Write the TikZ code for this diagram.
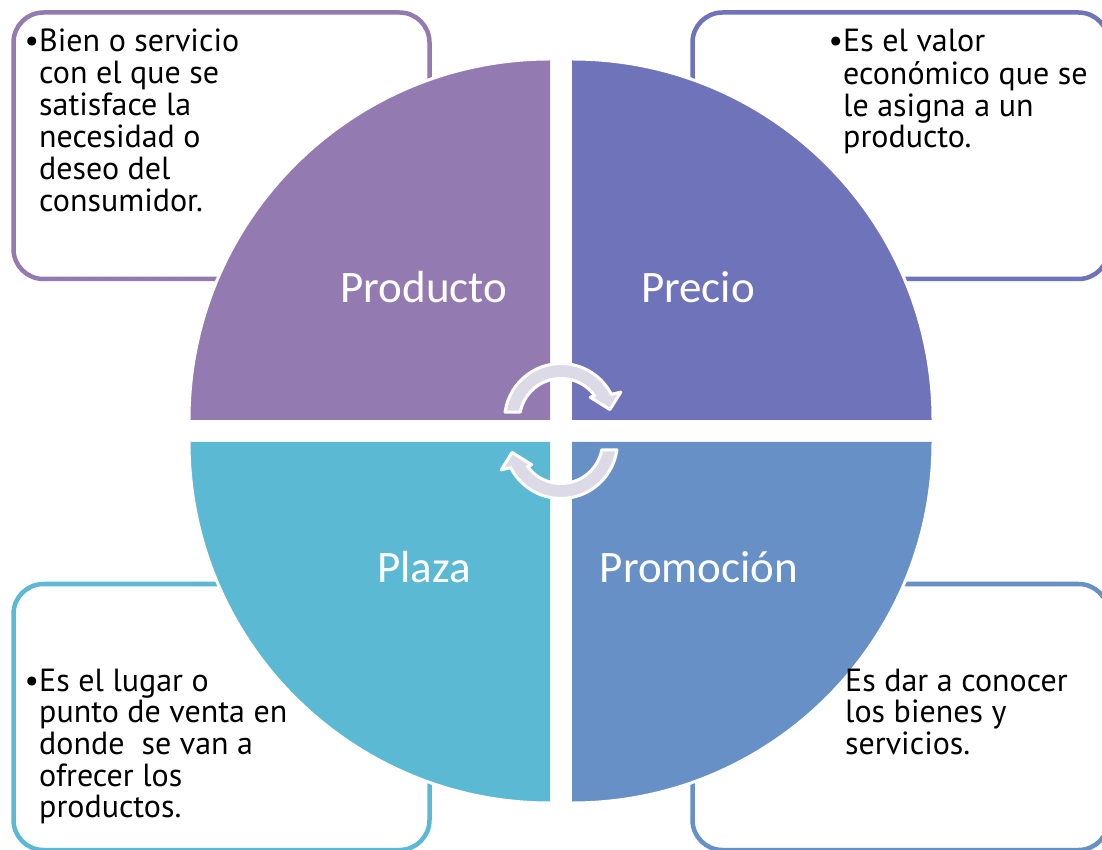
\documentclass[tikz,border=0pt]{standalone}
\usepackage{fontspec}
\setmainfont{PT Sans}
\newfontfamily\titlefont{Carlito}
\definecolor{cprod}{HTML}{937BB2}
\definecolor{cprec}{HTML}{6F73BA}
\definecolor{cplaz}{HTML}{5CB9D3}
\definecolor{cprom}{HTML}{6690C6}
\definecolor{carrow}{HTML}{DDDAE7}
\tikzset{
  infobox/.style={line width=4.5pt, rounded corners=30pt},
  bodytext/.style={inner sep=0pt, anchor=base west, font=\fontsize{32}{31}\selectfont, text=black},
  titletext/.style={inner sep=0pt, anchor=base, font=\titlefont\fontsize{45}{48}\selectfont, text=white},
  quadedge/.style={white, line width=3pt},
  cyclearrow/.style={draw=white, line width=3pt, fill=carrow, line join=round}
}
\newcommand{\bl}{\llap{\textbullet}}
\begin{document}
\begin{tikzpicture}[x=1pt,y=1pt]
\clip (0,0) rectangle (1102,849);
\fill[white] (0,0) rectangle (1102,849);
% boxes
\draw[infobox, draw=cprod] (13.5,570) rectangle (429.5,836.5);
\draw[infobox, draw=cprec] (692.5,570) rectangle (1108.5,836.5);
\draw[infobox, draw=cplaz] (13.5,-1) rectangle (429.5,265);
\draw[infobox, draw=cprom] (692.5,-1) rectangle (1108.5,265);
% texts
\node[bodytext] (tprod) at (39,797) {\begin{tabular}[t]{@{}l@{}}\bl Bien o servicio\\con el que se\\satisface la\\necesidad o\\deseo del\\consumidor.\end{tabular}};
\node[bodytext] (tprec) at (843,797) {\begin{tabular}[t]{@{}l@{}}\bl Es el valor\\económico que se\\le asigna a un\\producto.\end{tabular}};
\node[bodytext] (tplaz) at (39,158) {\begin{tabular}[t]{@{}l@{}}\bl Es el lugar o\\punto de venta en\\donde\ \ se van a\\ofrecer los\\productos.\end{tabular}};
\node[bodytext] (bprom) at (845,158) {\bl};
% quadrants
\fill[cprod] (550,429) -- (189,429) arc[start angle=180, end angle=90, radius=361] -- cycle;
\fill[cprec] (572,429) -- (572,790) arc[start angle=90, end angle=0, radius=361] -- cycle;
\fill[cplaz] (550,407) -- (550,46) arc[start angle=270, end angle=180, radius=361] -- cycle;
\fill[cprom] (572,407) -- (933,407) arc[start angle=0, end angle=-90, radius=361] -- cycle;
\draw[quadedge] (189,429) arc[start angle=180, end angle=90, radius=361];
\draw[quadedge] (572,790) arc[start angle=90, end angle=0, radius=361];
\draw[quadedge] (550,46) arc[start angle=270, end angle=180, radius=361];
\draw[quadedge] (933,407) arc[start angle=0, end angle=-90, radius=361];
\node[bodytext] (tprom) at (845,158) {\begin{tabular}[t]{@{}l@{}}Es dar a conocer\\los bienes y\\servicios.\end{tabular}};
% titles
\node[titletext] (nprod) at (424,546) {Producto};
\node[titletext] (nprec) at (698,546) {Precio};
\node[titletext] (nplaz) at (424,266) {Plaza};
\node[titletext] (nprom) at (699,266) {Promoción};
% cycle arrows
\begin{scope}[shift={(561,429)}]
\draw[cyclearrow] (172:56.5) arc[start angle=172, end angle=27, radius=56.5] -- (25:66) -- (12:50) -- (38:37) -- (36:41.5) arc[start angle=36, end angle=169, radius=41.5] -- cycle;
\end{scope}
\begin{scope}[shift={(561,407)}, rotate=180]
\draw[cyclearrow] (172:56.5) arc[start angle=172, end angle=27, radius=56.5] -- (25:66) -- (12:50) -- (38:37) -- (36:41.5) arc[start angle=36, end angle=169, radius=41.5] -- cycle;
\end{scope}
\end{tikzpicture}
\end{document}
